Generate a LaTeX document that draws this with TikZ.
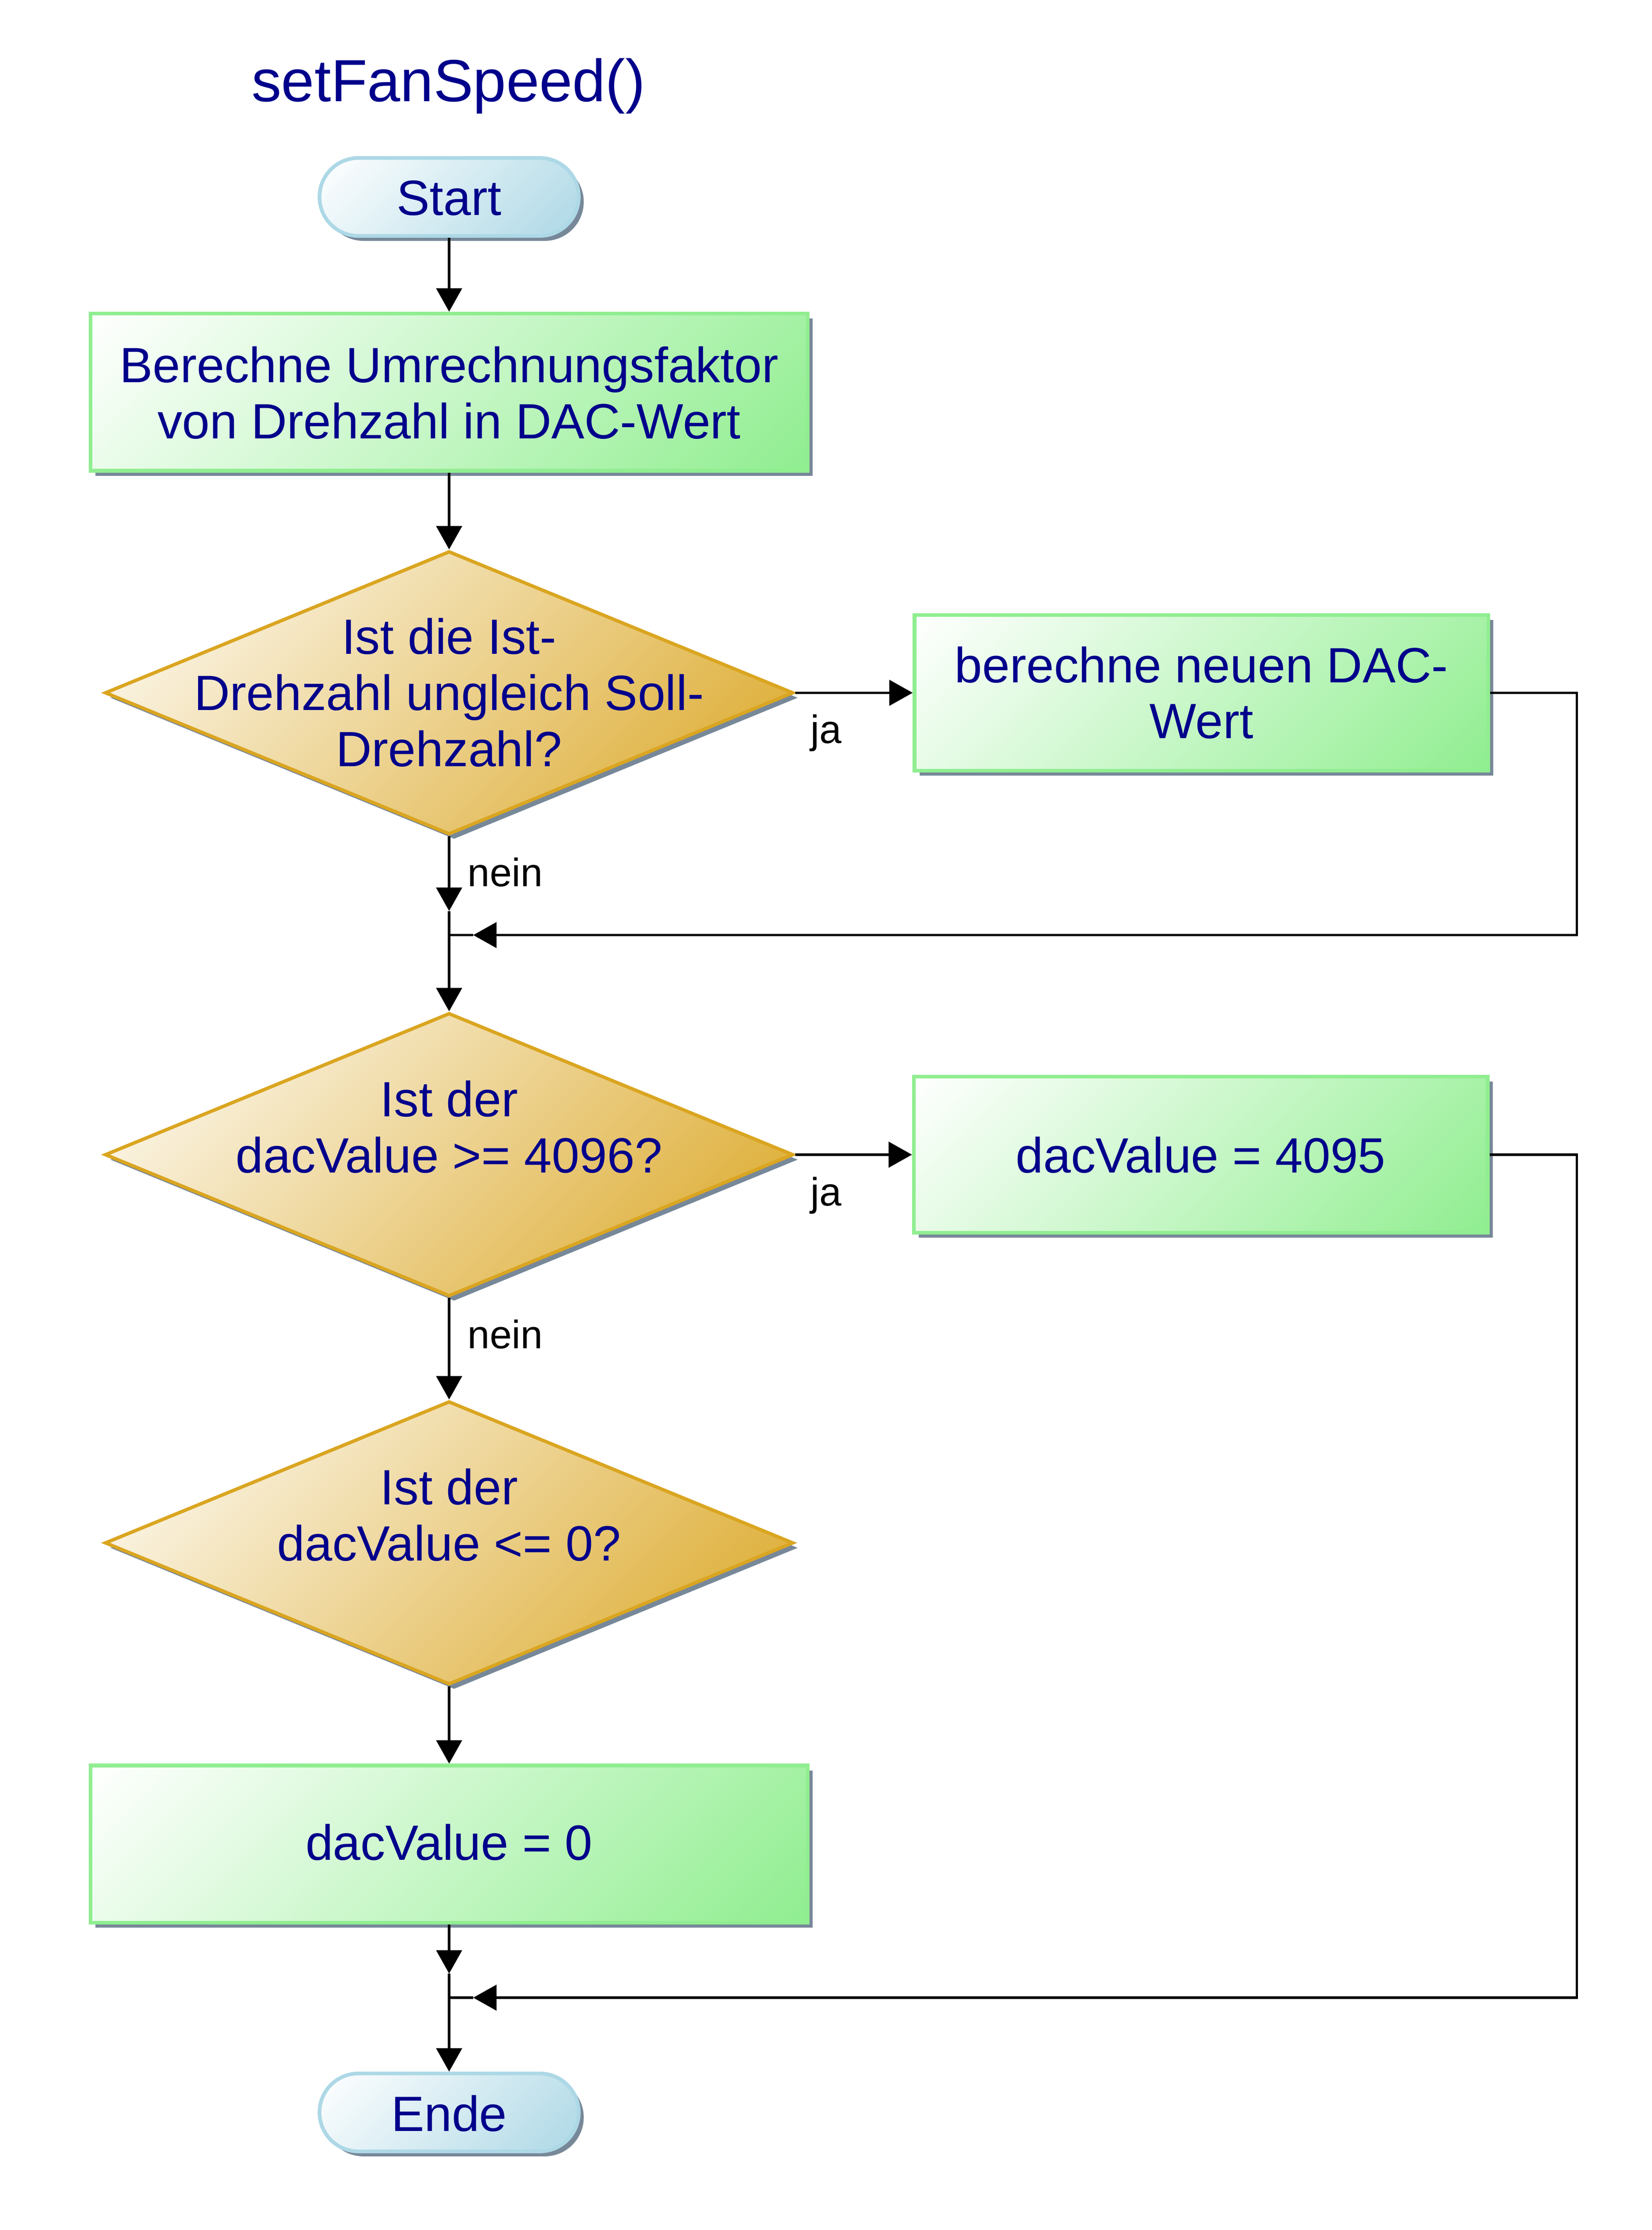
\documentclass[tikz,border=0pt]{standalone}
\usepackage{fontspec}
\setmainfont{Liberation Sans}
\usetikzlibrary{shapes.geometric,arrows.meta,shadows}
\definecolor{txtblue}{RGB}{0,0,139}
\definecolor{boxgreen}{RGB}{144,238,144}
\definecolor{goldrod}{RGB}{218,165,32}
\definecolor{termblue}{RGB}{173,216,230}
\definecolor{shadowgray}{RGB}{119,136,153}
\pgfdeclareverticalshading{greenshade}{100bp}{color(0bp)=(boxgreen); color(14.6bp)=(boxgreen); color(85.4bp)=(white); color(100bp)=(white)}
\pgfdeclareverticalshading{goldshade}{100bp}{color(0bp)=(goldrod); color(14.6bp)=(goldrod); color(85.4bp)=(white); color(100bp)=(white)}
\pgfdeclareverticalshading{blueshade}{100bp}{color(0bp)=(termblue); color(14.6bp)=(termblue); color(85.4bp)=(white); color(100bp)=(white)}
\newcommand\mlines[1]{\vtop{\baselineskip=39.6pt\lineskiplimit=-100pt\lineskip=0pt\halign{\hfil##\hfil\cr#1\crcr}}}
\begin{document}
\begin{tikzpicture}[x=1pt,y=-1pt,
  shadowed/.style={drop shadow={shadow xshift=3.5pt,shadow yshift=-3.5pt,fill=shadowgray,opacity=1}},
  procbox/.style={rectangle,draw=boxgreen,line width=2.6pt,shade,shading=greenshade,shading angle=45,minimum width=506pt,minimum height=111pt,inner sep=0pt,shadowed},
  smallbox/.style={procbox,minimum width=405pt,minimum height=110pt},
  termbox/.style={rectangle,rounded corners=27.5pt,draw=termblue,line width=2.6pt,shade,shading=blueshade,shading angle=45,minimum width=183pt,minimum height=55pt,inner sep=0pt,shadowed},
  decision/.style={diamond,draw=goldrod,line width=2.4pt,shade,shading=goldshade,shading angle=45,minimum width=486pt,minimum height=200pt,inner sep=0pt,shadowed},
  txt/.style={font=\fontsize{35}{39.6}\selectfont,text=txtblue,inner sep=0pt,anchor=base},
  titletxt/.style={font=\fontsize{42}{48}\selectfont,text=txtblue,inner sep=0pt,anchor=base},
  lbl/.style={font=\fontsize{28}{32}\selectfont,text=black,inner sep=0pt,anchor=base west},
  conn/.style={line width=1.8pt,draw=black},
  arr/.style={conn,-{Triangle[length=16.5pt,width=18pt]}}
]
\path[use as bounding box,fill=white] (0,0) rectangle (1166,1574);

\node[titletxt] (title) at (316.5,71.7) {setFanSpeed()};

\node[termbox] (start) at (317,139) {};
\node[txt] (startT) at (317,152) {Start};

\node[procbox] (b1) at (317,276.8) {};
\node[txt] (b1T) at (317,270) {\mlines{Berechne Umrechnungsfaktor\cr von Drehzahl in DAC-Wert}};

\node[decision] (d1) at (317,489) {};
\node[txt] (d1T) at (317,461.7) {\mlines{Ist die Ist-\cr Drehzahl ungleich Soll-\cr Drehzahl?}};

\node[smallbox] (b2) at (848,489) {};
\node[txt] (b2T) at (848,481.7) {\mlines{berechne neuen DAC-\cr Wert}};

\coordinate (j1) at (317,660);
\coordinate (rr) at (1113,0);

\node[decision] (d2) at (317,815) {};
\node[txt] (d2T) at (317,788) {\mlines{Ist der\cr dacValue >= 4096?}};

\node[smallbox] (b3) at (847.5,815) {};
\node[txt] (b3T) at (847.5,827.7) {dacValue = 4095};

\node[decision] (d3) at (317,1089) {};
\node[txt] (d3T) at (317,1062) {\mlines{Ist der\cr dacValue <= 0?}};

\node[procbox] (b4) at (317,1301.6) {};
\node[txt] (b4T) at (317,1313) {dacValue = 0};

\coordinate (j2) at (317,1410);

\node[termbox] (ende) at (317,1491) {};
\node[txt] (endeT) at (317,1504.4) {Ende};

% connectors
\draw[arr] (start.south) -- (b1.north);
\draw[arr] (b1.south) -- (d1.north);
\draw[arr] (d1.east) -- (b2.west);
\draw[arr] (d1.south) -- ([yshift=17pt]j1);
\draw[arr] ([yshift=17pt]j1) -- (d2.north);
\draw[arr] (b2.east) -- (b2.east -| rr) -- (rr |- j1) -- ([xshift=17pt]j1);
\draw[conn] ([xshift=17pt]j1) -- (j1);

\draw[arr] (d2.east) -- (b3.west);
\draw[arr] (d2.south) -- (d3.north);
\draw[arr] (d3.south) -- (b4.north);
\draw[arr] (b4.south) -- ([yshift=17pt]j2);
\draw[arr] ([yshift=17pt]j2) -- (ende.north);
\draw[arr] (b3.east) -- (b3.east -| rr) -- (rr |- j2) -- ([xshift=17pt]j2);
\draw[conn] ([xshift=17pt]j2) -- (j2);

% labels
\node[lbl] (ja1) at (572,524.5) {ja};
\node[lbl] (nein1) at (330,625.6) {nein};
\node[lbl] (ja2) at (572,851) {ja};
\node[lbl] (nein2) at (330,951.8) {nein};
\end{tikzpicture}
\end{document}
